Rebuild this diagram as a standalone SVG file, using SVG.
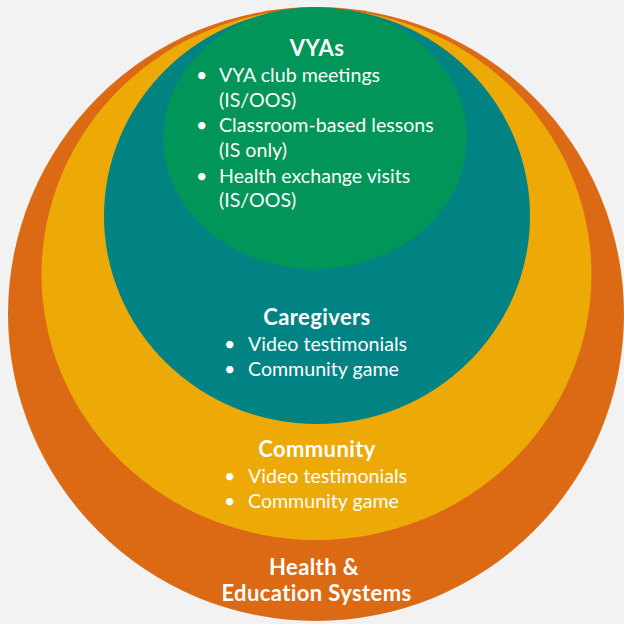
<svg xmlns="http://www.w3.org/2000/svg" width="624" height="624" viewBox="0 0 624 624">
<style>
text{font-family:Lato,"Open Sans","Liberation Sans",sans-serif;fill:#ffffff;font-size:19.6px}
.h{font-weight:bold;font-size:22px;letter-spacing:0.4px}
.c{text-anchor:middle}
</style>
<rect width="624" height="624" fill="#f2f2f2"/>
<g id="health-education-systems">
<ellipse cx="316" cy="314" rx="308" ry="307" fill="#dc6a15"/>
<text class="h c" x="314" y="575">Health &amp;</text>
<text class="h c" x="316.5" y="601">Education Systems</text>
</g>
<g id="community">
<ellipse cx="316.5" cy="274.5" rx="275" ry="265.5" fill="#eda906"/>
<text class="h c" x="317" y="457">Community</text>
<text x="224" y="483">•</text><text x="248" y="483">Video testimonials</text>
<text x="224" y="508">•</text><text x="248" y="508">Community game</text>
</g>
<g id="caregivers">
<ellipse cx="317" cy="216" rx="213" ry="208" fill="#018383"/>
<text class="h c" x="317" y="325">Caregivers</text>
<text x="224" y="351">•</text><text x="248" y="351">Video testimonials</text>
<text x="224" y="376">•</text><text x="248" y="376">Community game</text>
</g>
<g id="vyas">
<ellipse cx="315" cy="138" rx="152" ry="131" fill="#019559"/>
<text class="h c" x="317" y="56">VYAs</text>
<text x="196" y="82">•</text><text x="219" y="82">VYA club meetings</text>
<text x="219" y="107">(IS/OOS)</text>
<text x="196" y="132">•</text><text x="219" y="132">Classroom-based lessons</text>
<text x="219" y="157">(IS only)</text>
<text x="196" y="183">•</text><text x="219" y="183">Health exchange visits</text>
<text x="219" y="207">(IS/OOS)</text>
</g>
<g id="connectors"/>
</svg>
